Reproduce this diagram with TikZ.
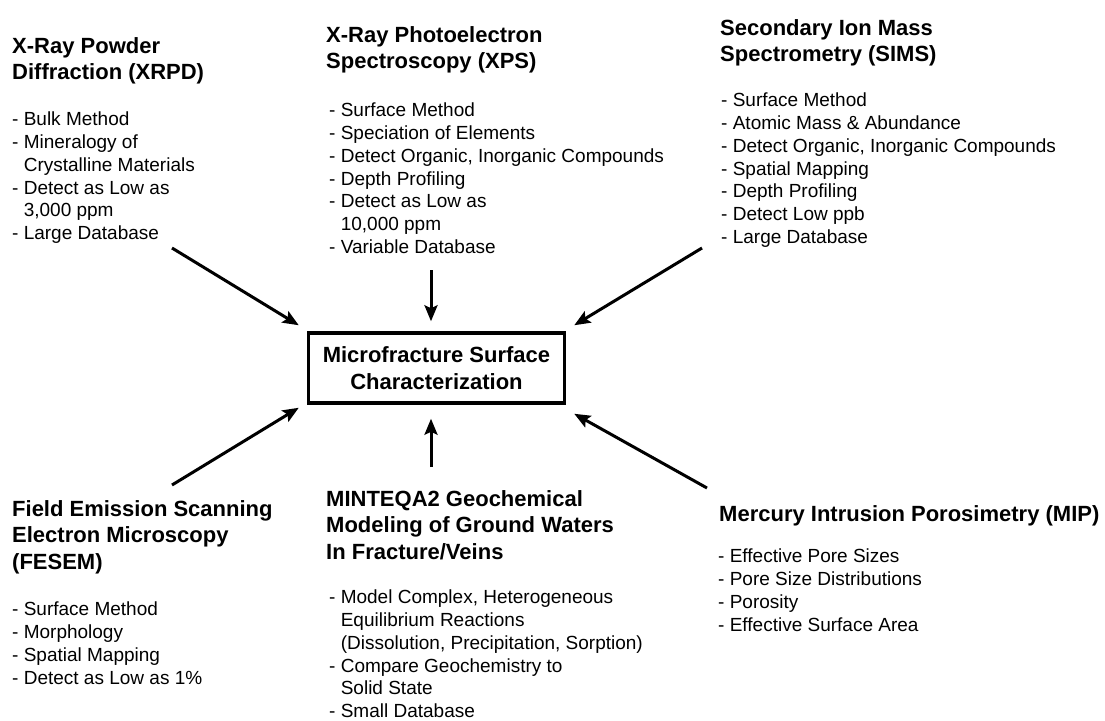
\documentclass[tikz,border=0pt]{standalone}
\usepackage{fontspec}
\setmainfont{Liberation Sans}
\usepackage{tikz}
\usetikzlibrary{arrows.meta,positioning,calc}
\tikzstyle{heading}=[anchor=north west,inner sep=0pt,align=left,font=\bfseries\fontsize{22}{26.5}\selectfont]
\tikzstyle{items}=[anchor=north west,inner sep=0pt,align=left,font=\fontsize{19}{22.7}\selectfont]
\tikzstyle{target}=[draw,line width=3.5pt,minimum width=256pt,minimum height=70pt,inner sep=0pt,align=center,font=\bfseries\fontsize{22}{27}\selectfont]
\tikzstyle{feed}=[line width=3pt,-{Stealth[length=16pt,width=13pt,inset=3pt]}]
\newcommand{\hang}{\phantom{-~}}

\begin{document}
\begin{tikzpicture}[x=1pt,y=-1pt]
\useasboundingbox (0,0) rectangle (1105,720);

\node [target] (box) at (436.5,368) {Microfracture Surface\\Characterization};

% top row
\node [heading] (xrpd) at (12,37) {X-Ray Powder\\Diffraction (XRPD)};
\node [items] (xrpdlist) at (12,112) {- Bulk Method\\- Mineralogy of\\\hang Crystalline Materials\\- Detect as Low as\\\hang 3,000 ppm\\- Large Database};

\node [heading] (xps) at (326,26) {X-Ray Photoelectron\\Spectroscopy (XPS)};
\node [items] (xpslist) at (329,103) {- Surface Method\\- Speciation of Elements\\- Detect Organic, Inorganic Compounds\\- Depth Profiling\\- Detect as Low as\\\hang 10,000 ppm\\- Variable Database};

\node [heading] (sims) at (720,19) {Secondary Ion Mass\\Spectrometry (SIMS)};
\node [items] (simslist) at (721,93) {- Surface Method\\- Atomic Mass \& Abundance\\- Detect Organic, Inorganic Compounds\\- Spatial Mapping\\- Depth Profiling\\- Detect Low ppb\\- Large Database};

% bottom row
\node [heading] (fesem) at (12,500) {Field Emission Scanning\\Electron Microscopy\\(FESEM)};
\node [items] (fesemlist) at (12,602) {- Surface Method\\- Morphology\\- Spatial Mapping\\- Detect as Low as 1\%};

\node [heading] (minteq) at (326,490) {MINTEQA2 Geochemical\\Modeling of Ground Waters\\In Fracture/Veins};
\node [items] (minteqlist) at (329,590) {- Model Complex, Heterogeneous\\\hang Equilibrium Reactions\\\hang (Dissolution, Precipitation, Sorption)\\- Compare Geochemistry to\\\hang Solid State\\- Small Database};

\node [heading] (mip) at (719,505) {Mercury Intrusion Porosimetry (MIP)};
\node [items] (miplist) at (718,549) {- Effective Pore Sizes\\- Pore Size Distributions\\- Porosity\\- Effective Surface Area};

% arrows into the box
\coordinate (xrpdout) at (172,248);
\coordinate (xpsout) at (431,270);
\coordinate (simsout) at (702,248);
\coordinate (fesemout) at (172,485);
\coordinate (minteqout) at (431,467);
\coordinate (mipout) at (707,488);

\draw [feed] (xrpdout) -- ($(box.north west)+(-8,-6)$);
\draw [feed] (xpsout) -- ($(box.north)+(-5.5,-10)$);
\draw [feed] (simsout) -- ($(box.north east)+(8,-6)$);
\draw [feed] (fesemout) -- ($(box.south west)+(-8,3)$);
\draw [feed] (minteqout) -- ($(box.south)+(-5.5,14)$);
\draw [feed] (mipout) -- ($(box.south east)+(8,9)$);
\end{tikzpicture}
\end{document}
